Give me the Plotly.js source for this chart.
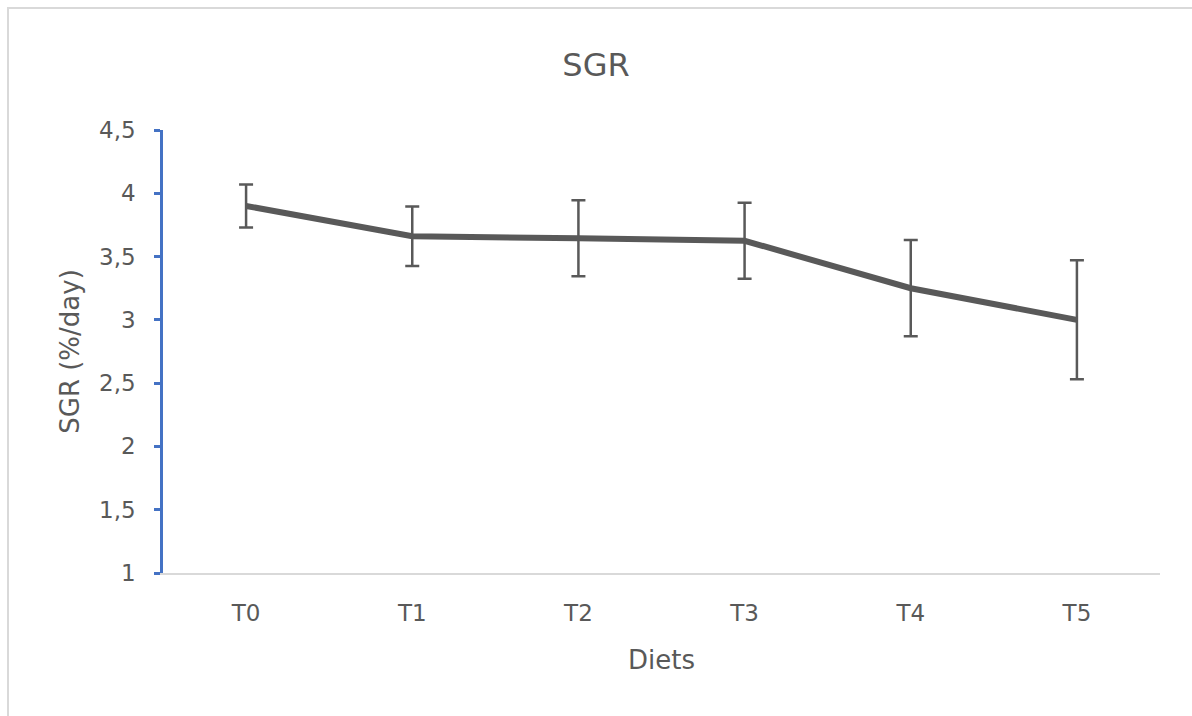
<!DOCTYPE html>
<html>
<head>
<meta charset="utf-8">
<script src="https://cdn.plot.ly/plotly-3.0.1.min.js"></script>
<style>
  html, body { margin: 0; padding: 0; background: #ffffff; }
  #wrap { position: relative; width: 1192px; height: 716px; overflow: hidden; }
  #chart { width: 1192px; height: 716px; }
  #frame { position: absolute; left: 7px; top: 7px; width: 1200px; height: 730px;
           border: 2px solid #d9d9d9; box-sizing: border-box; pointer-events: none; }
</style>
</head>
<body>
<div id="wrap">
  <div id="chart"></div>
  <div id="frame"></div>
</div>
<script>
const categories = ["T0", "T1", "T2", "T3", "T4", "T5"];
const sgrValues = [3.90, 3.66, 3.645, 3.625, 3.25, 3.00];
const sgrErrors = [0.17, 0.235, 0.30, 0.30, 0.38, 0.47];
const yTickValues = [1, 1.5, 2, 2.5, 3, 3.5, 4, 4.5];
const yTickLabels = ["1", "1,5", "2", "2,5", "3", "3,5", "4", "4,5"];

const fontFamily = "DejaVu Sans, Open Sans, sans-serif";
const textColor = "#595959";

const trace = {
  type: "scatter",
  mode: "lines",
  x: categories,
  y: sgrValues,
  line: { color: "#595959", width: 6 },
  error_y: {
    type: "data",
    array: sgrErrors,
    visible: true,
    color: "#595959",
    thickness: 2.5,
    width: 7
  },
  hoverinfo: "x+y"
};

const layout = {
  width: 1192,
  height: 716,
  paper_bgcolor: "#ffffff",
  plot_bgcolor: "#ffffff",
  margin: { l: 163, r: 32, t: 130, b: 143 },
  showlegend: false,
  font: { family: fontFamily, color: textColor },
  title: {
    text: "SGR",
    font: { family: fontFamily, size: 32, color: textColor },
    x: 0.5,
    xanchor: "center",
    y: 0.91,
    yanchor: "middle"
  },
  xaxis: {
    type: "category",
    range: [-0.5, 5.5],
    showgrid: false,
    zeroline: false,
    showline: true,
    linecolor: "#d9d9d9",
    linewidth: 2,
    ticks: "",
    tickfont: { family: fontFamily, size: 23, color: textColor },
    ticklabelstandoff: 18,
    title: {
      text: "Diets",
      font: { family: fontFamily, size: 26, color: textColor },
      standoff: 26
    }
  },
  yaxis: {
    range: [1, 4.5],
    tickvals: yTickValues,
    ticktext: yTickLabels,
    showgrid: false,
    zeroline: false,
    showline: true,
    linecolor: "#4472c4",
    linewidth: 2.5,
    ticks: "outside",
    ticklen: 6,
    tickwidth: 2.5,
    tickcolor: "#4472c4",
    tickfont: { family: fontFamily, size: 23, color: textColor },
    ticklabelstandoff: 14,
    title: {
      text: "SGR (%/day)",
      font: { family: fontFamily, size: 26, color: textColor },
      standoff: 12
    }
  }
};

Plotly.newPlot("chart", [trace], layout, { displayModeBar: false, staticPlot: false });
</script>
</body>
</html>
